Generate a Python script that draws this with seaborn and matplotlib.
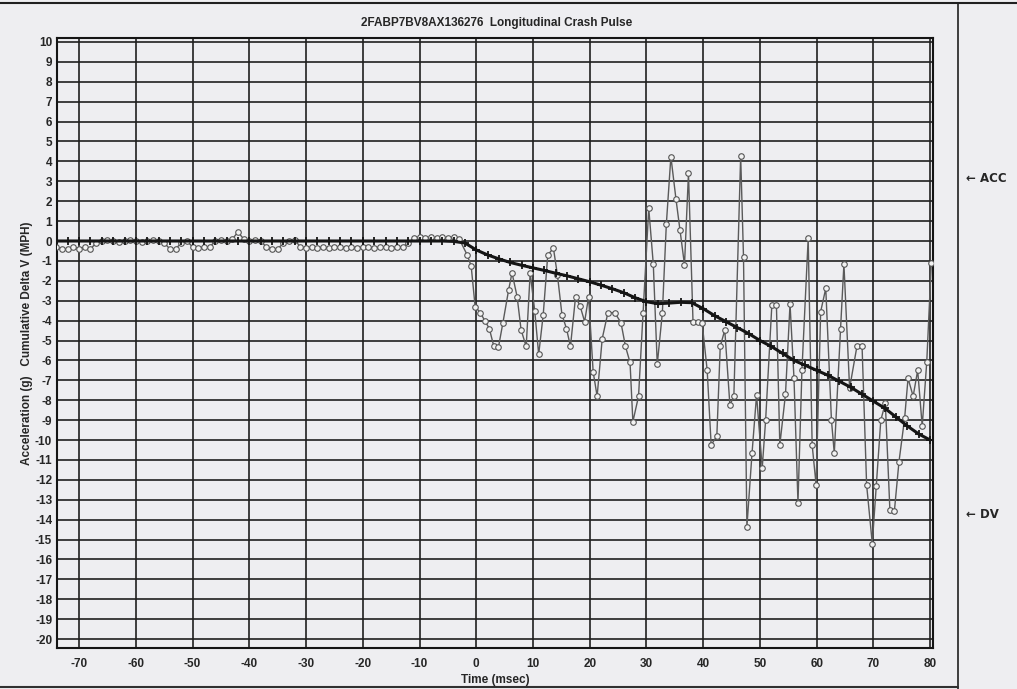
import numpy as np
import pandas as pd
import matplotlib
matplotlib.use("Agg")
import matplotlib.pyplot as plt
import seaborn as sns
from matplotlib.lines import Line2D

# data
pre_time = list(range(-74, -2))
pre_acc = [-0.3, -0.4, -0.4, -0.3, -0.4, -0.3, -0.4, -0.1, 0.0, 0.05,
           0.0, -0.05, 0.0, 0.05, 0.0, -0.05, 0.0, 0.05, 0.0, -0.1,
           -0.4, -0.4, -0.1, 0.0, -0.3, -0.35, -0.3, -0.3, 0.0, 0.05,
           0.0, 0.1, 0.45, 0.1, 0.0, 0.05, 0.0, -0.3, -0.4, -0.4,
           -0.1, 0.0, 0.05, -0.3, -0.35, -0.3, -0.35, -0.3, -0.35, -0.3,
           -0.3, -0.35, -0.3, -0.35, -0.3, -0.3, -0.35, -0.3, -0.3, -0.35,
           -0.3, -0.3, -0.1, 0.15, 0.2, 0.15, 0.2, 0.15, 0.2, 0.15,
           0.2, 0.1]

crash_time = [-1.6, -0.9, -0.2, 0.7, 1.5, 2.3, 3.1, 3.9, 4.7, 5.7,
              6.3, 7.2, 7.9, 8.8, 9.5, 10.3, 11.0, 11.8, 12.6, 13.6,
              14.3, 15.1, 15.9, 16.6, 17.5, 18.3, 19.1, 19.8, 20.6, 21.3,
              22.2, 23.2, 24.4, 25.5, 26.3, 27.1, 27.6, 28.6, 29.4, 30.4,
              31.2, 31.9, 32.8, 33.5, 34.3, 35.2, 35.9, 36.7, 37.4, 38.2,
              39.0, 39.8, 40.7, 41.4, 42.4, 43.0, 43.8, 44.7, 45.4, 46.6,
              47.1, 47.7, 48.6, 49.4, 50.4, 51.0, 52.1, 52.9, 53.5, 54.5,
              55.3, 56.0, 56.7, 57.4, 58.5, 59.2, 59.9, 60.7, 61.6, 62.6,
              63.1, 64.2, 64.8, 65.8, 67.1, 68.0, 68.8, 69.8, 70.5, 71.3,
              72.1, 72.9, 73.7, 74.5, 75.5, 76.1, 77.0, 77.8, 78.6, 79.4,
              80.2]
crash_acc = [-0.7, -1.26, -3.3, -3.6, -4.0, -4.4, -5.3, -5.35, -4.1, -2.46,
             -1.6, -2.8, -4.47, -5.3, -1.6, -3.5, -5.7, -3.7, -0.7, -0.36,
             -1.7, -3.7, -4.4, -5.3, -2.8, -3.27, -4.05, -2.8, -6.57, -7.8,
             -4.9, -3.6, -3.6, -4.1, -5.3, -6.1, -9.08, -7.8, -3.6, 1.64,
             -1.16, -6.2, -3.6, 0.85, 4.24, 2.1, 0.55, -1.2, 3.4, -4.05,
             -4.05, -4.1, -6.5, -10.25, -9.8, -5.3, -4.47, -8.24, -7.8, 4.27,
             -0.8, -14.36, -10.67, -7.74, -11.4, -9.0, -3.2, -3.2, -10.25, -7.7,
             -3.17, -6.9, -13.15, -6.5, 0.13, -10.25, -12.26, -3.55, -2.38, -9.0,
             -10.67, -4.44, -1.16, -7.4, -5.28, -5.3, -12.26, -15.2, -12.3, -9.0,
             -8.15, -13.5, -13.55, -11.1, -8.9, -6.9, -7.8, -6.5, -9.3, -6.07,
             -1.1]

dv_time = list(range(-74, 81, 2))
dv_vals = [0.0] * 35 + [-0.02, -0.1,
           -0.45, -0.7, -0.9, -1.08, -1.22, -1.35, -1.48, -1.62, -1.75, -1.9,
           -2.05, -2.22, -2.4, -2.6, -2.85, -3.05, -3.15, -3.12, -3.08, -3.1,
           -3.4, -3.75, -4.05, -4.35, -4.65, -5.0, -5.3, -5.65, -6.0, -6.25,
           -6.5, -6.75, -7.05, -7.35, -7.7, -8.05, -8.4, -8.85, -9.3, -9.7,
           -10.0]

acc_df = pd.DataFrame({"t": pre_time + crash_time, "v": pre_acc + crash_acc})
dv_df = pd.DataFrame({"t": dv_time, "v": dv_vals})

sns.set_theme(style="white")
plt.rcParams['font.family'] = ['Liberation Sans Narrow', 'Liberation Sans', 'DejaVu Sans']
plt.rcParams['axes.unicode_minus'] = False
bg = '#eeeef1'

fig = plt.figure(figsize=(10.17, 6.89), dpi=100, facecolor=bg)
ax = fig.add_axes([57 / 1017, 1 - 648 / 689, 876 / 1017, 610 / 689])
ax.set_facecolor(bg)

sns.lineplot(data=acc_df, x="t", y="v", ax=ax, estimator=None, sort=False,
             color='#5a5a5a', linewidth=1.0, marker='o', markersize=4,
             markerfacecolor='#f2f2f2', markeredgecolor='#555555',
             markeredgewidth=0.8, zorder=4)
sns.lineplot(data=dv_df, x="t", y="v", ax=ax, estimator=None, sort=False,
             color='#151515', linewidth=2.2, marker='+', markersize=6,
             markeredgewidth=1.3, markeredgecolor='#151515', zorder=5)

ax.set_xlim(-73.9, 80.5)
ax.set_ylim(-20.45, 10.2)
ax.set_xticks(range(-70, 81, 10))
ax.set_yticks(range(-20, 11))
ax.set_xticks(np.arange(-73, 81, 1), minor=True)
ax.set_yticks(np.arange(-20.4, 10.2, 0.2), minor=True)
ax.grid(True, which='major', color='#202020', linewidth=1.2)
ax.tick_params(axis='both', which='major', labelsize=8.5, length=3, width=1,
               direction='out', color='#202020', pad=0.5)
ax.tick_params(axis='x', which='major', pad=4)
ax.tick_params(axis='x', which='minor', length=3, direction='in', width=0.8)
ax.tick_params(axis='y', which='minor', length=3, direction='in', width=0.8)
for lbl in ax.get_xticklabels() + ax.get_yticklabels():
    lbl.set_fontweight('bold')
for s in ax.spines.values():
    s.set_color('#151515')
    s.set_linewidth(1.5)

ax.set_xlabel('Time (msec)', fontsize=8.5, fontweight='bold', labelpad=3)
ax.set_ylabel('Acceleration (g)   Cumulative Delta V (MPH)', fontsize=8.5,
              fontweight='bold')
ax.yaxis.set_label_coords(-0.027, 0.5)
fig.text(497 / 1017, 1 - 23 / 689, '2FABP7BV8AX136276  Longitudinal Crash Pulse',
         ha='center', va='center', fontsize=8.5, fontweight='bold')

# side legend panel
fig.add_artist(Line2D([958 / 1017, 958 / 1017], [0, 1 - 3 / 689],
                      transform=fig.transFigure, color='#202020', linewidth=1.2))
fig.add_artist(Line2D([0, 1], [1 - 3 / 689, 1 - 3 / 689],
                      transform=fig.transFigure, color='#202020', linewidth=1.5))
fig.add_artist(Line2D([0, 958 / 1017], [1 - 687 / 689, 1 - 687 / 689],
                      transform=fig.transFigure, color='#303030', linewidth=1.5))
fig.text(966 / 1017, 1 - 178 / 689, '\u2190 ACC', ha='left', va='center',
         fontsize=8.5, fontweight='bold', family=['DejaVu Sans'])
fig.text(966 / 1017, 1 - 515 / 689, '\u2190 DV', ha='left', va='center',
         fontsize=8.5, fontweight='bold', family=['DejaVu Sans'])

fig.savefig('out.png', dpi=100, facecolor=bg)
